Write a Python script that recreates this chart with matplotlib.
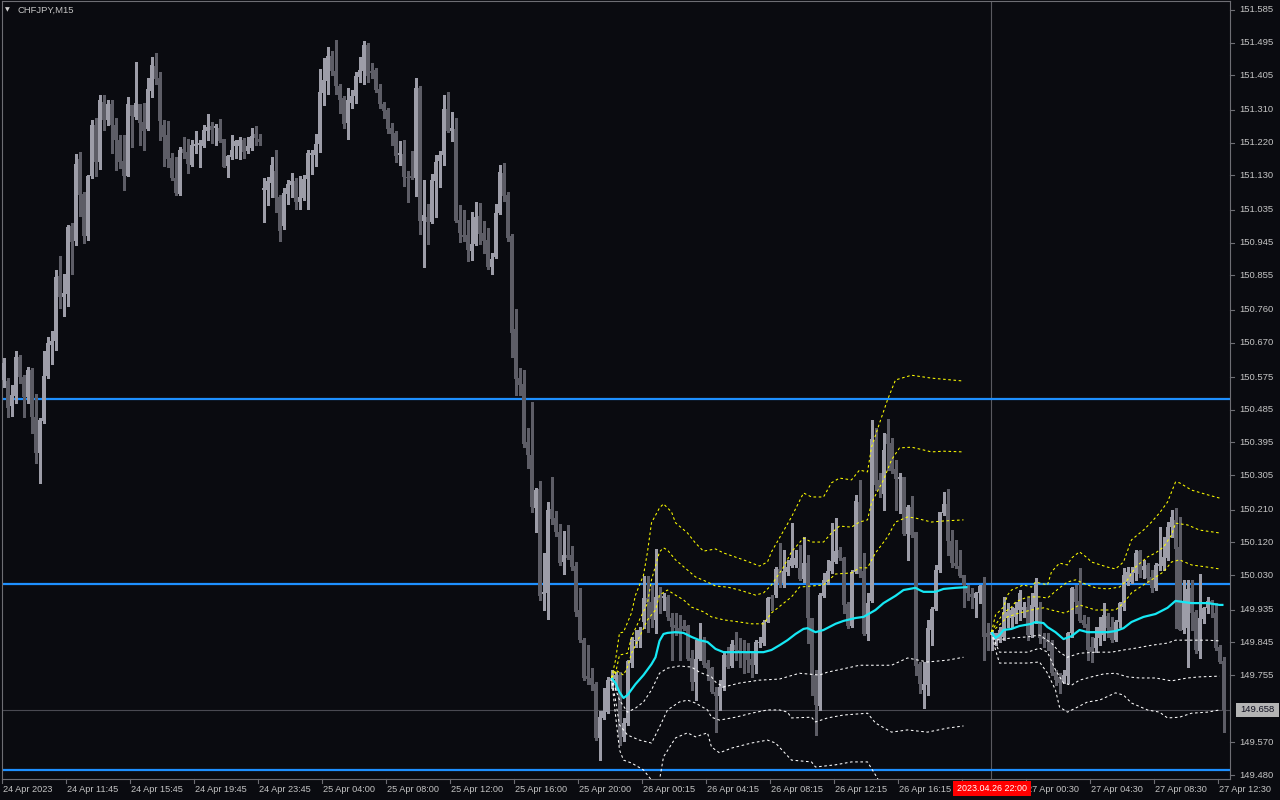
import matplotlib
matplotlib.use("Agg")
import matplotlib.pyplot as plt
import matplotlib.transforms as mtransforms
from matplotlib.patches import Rectangle
from matplotlib.lines import Line2D
import numpy as np

plt.rcParams['font.family'] = ['Liberation Sans', 'DejaVu Sans']

# ---------------- data (CHFJPY M15) ----------------
opens = [
150.567,150.564,150.495,150.522,150.630,150.575,150.520,150.594,150.465,150.366,
150.454,150.578,150.663,150.674,150.853,150.795,150.804,150.990,150.949,151.175,
151.079,150.963,151.128,151.268,151.167,151.332,151.282,151.326,151.268,151.227,
151.170,151.128,151.323,151.291,151.326,151.277,151.258,151.362,151.431,151.398,
151.268,151.241,151.178,151.123,151.079,151.203,151.194,151.159,151.211,151.213,
151.211,151.252,151.266,151.260,151.260,151.230,151.156,151.181,151.211,151.211,
151.227,151.197,151.205,151.244,151.230,151.090,151.090,151.109,151.142,151.071,
150.990,151.079,151.103,151.115,151.057,151.068,151.120,151.186,151.186,151.216,
151.356,151.389,151.458,151.417,151.376,151.343,151.274,151.329,151.348,151.400,
151.417,151.488,151.417,151.420,151.367,151.326,151.310,151.260,151.247,151.186,
151.189,151.126,151.128,151.123,151.370,151.004,151.016,151.002,151.115,151.170,
151.186,151.312,151.252,151.258,151.007,150.966,150.966,150.922,150.941,151.018,
150.971,150.952,150.878,150.905,151.026,151.137,151.076,150.963,150.707,150.572,
150.555,150.396,150.360,150.215,150.267,149.978,149.981,150.212,150.187,150.149,
150.066,150.085,150.085,150.055,149.934,149.851,149.752,149.747,149.730,149.582,
149.637,149.653,149.738,149.744,149.755,149.585,149.623,149.788,149.849,149.849,
149.901,149.967,149.956,149.907,149.975,149.967,149.970,149.912,149.893,149.884,
149.890,149.890,149.802,149.736,149.799,149.851,149.788,149.774,149.708,149.697,
149.719,149.810,149.780,149.837,149.824,149.821,149.818,149.799,149.782,149.843,
149.843,149.901,149.970,149.975,150.047,150.008,150.039,150.055,150.058,150.050,
150.019,150.063,149.912,149.755,149.670,149.973,150.011,150.041,150.066,150.099,
150.077,149.951,149.890,150.039,150.231,150.041,149.868,149.959,150.402,150.292,
150.253,150.418,150.393,150.322,150.294,150.300,150.143,150.217,150.149,149.785,
149.714,149.727,149.879,149.937,150.044,150.201,150.226,150.124,150.063,150.055,
150.030,150.000,149.978,149.967,149.981,150.003,149.871,149.865,149.851,149.851,
149.860,149.912,149.912,149.915,149.934,149.934,149.942,149.865,149.942,149.942,
149.862,149.854,149.846,149.763,149.750,149.736,149.752,149.870,149.992,149.959,
149.907,149.895,149.832,149.829,149.857,149.865,149.918,149.887,149.851,149.901,
149.942,150.011,150.011,150.036,150.096,150.044,150.058,150.025,149.995,150.055,
150.055,150.077,150.162,150.182,150.107,149.879,149.884,149.995,149.929,149.821,
149.909,149.940,149.959,149.926,149.832,149.793]

highs = [
150.627,150.572,150.553,150.646,150.635,150.580,150.602,150.600,150.528,150.462,
150.646,150.685,150.701,150.870,150.908,150.859,150.993,150.999,151.189,151.194,
151.084,151.131,151.282,151.288,151.351,151.351,151.337,151.337,151.288,151.241,
151.241,151.345,151.323,151.442,151.326,151.329,151.398,151.455,151.467,151.414,
151.282,151.279,151.192,151.180,151.208,151.235,151.230,151.227,151.252,151.227,
151.268,151.299,151.277,151.271,151.285,151.230,151.186,151.241,151.227,151.235,
151.233,151.235,151.260,151.266,151.244,151.123,151.126,151.180,151.200,151.076,
151.095,151.117,151.137,151.123,151.128,151.131,151.200,151.200,151.244,151.423,
151.453,151.483,151.472,151.502,151.381,151.348,151.370,151.365,151.414,151.455,
151.500,151.494,151.439,151.425,151.381,151.332,151.315,151.274,151.252,151.224,
151.227,151.142,151.197,151.398,151.376,151.117,151.051,151.134,151.186,151.197,
151.351,151.359,151.304,151.288,151.049,151.035,151.007,151.029,151.057,151.054,
151.004,150.985,150.917,151.051,151.159,151.164,151.084,150.969,150.762,150.600,
150.594,150.435,150.506,150.270,150.289,150.091,150.231,150.300,150.206,150.171,
150.151,150.168,150.110,150.066,149.995,149.857,149.837,149.774,149.736,149.656,
149.719,149.749,149.769,149.763,149.763,149.637,149.796,149.860,149.879,149.887,
150.028,150.028,150.003,150.102,149.997,149.981,149.975,149.926,149.926,149.920,
149.907,149.893,149.824,149.851,149.898,149.860,149.796,149.777,149.722,149.741,
149.816,149.832,149.851,149.873,149.857,149.851,149.843,149.818,149.851,149.860,
149.907,149.970,149.975,150.052,150.118,150.099,150.072,150.173,150.099,150.113,
150.135,150.085,149.912,149.769,149.981,150.036,150.072,150.173,150.187,150.107,
150.080,149.956,150.044,150.251,150.292,150.091,149.981,150.457,150.435,150.311,
150.421,150.459,150.407,150.347,150.311,150.300,150.223,150.248,150.149,149.791,
149.791,149.907,149.942,150.058,150.204,150.259,150.267,150.154,150.127,150.099,
150.030,150.003,149.995,149.984,150.003,150.025,149.898,149.879,149.870,149.887,
149.970,149.953,149.942,149.956,149.989,149.956,149.970,149.981,150.022,149.956,
149.870,149.870,149.851,149.769,149.760,149.769,149.873,149.997,150.003,150.050,
149.920,149.915,149.860,149.887,149.915,149.953,149.926,149.915,149.907,149.956,
150.050,150.052,150.052,150.099,150.099,150.072,150.063,150.044,150.063,150.162,
150.135,150.176,150.209,150.215,150.190,150.017,150.017,150.017,149.934,150.033,
149.942,149.970,149.962,149.953,149.837,149.805]

lows = [
150.548,150.465,150.467,150.504,150.559,150.465,150.504,150.421,150.339,150.284,
150.448,150.572,150.611,150.649,150.765,150.743,150.771,150.859,150.938,151.018,
150.944,150.952,151.123,151.128,151.147,151.255,151.268,151.192,151.145,151.150,
151.090,151.128,151.208,151.285,151.213,151.200,151.255,151.345,151.381,151.227,
151.156,151.153,151.117,151.076,151.076,151.178,151.137,151.156,151.192,151.153,
151.208,151.227,151.219,151.213,151.222,151.153,151.126,151.175,151.178,151.175,
151.178,151.192,151.200,151.213,151.213,151.002,151.049,151.071,151.029,150.949,
150.982,151.051,151.071,151.038,151.038,151.062,151.038,151.134,151.156,151.194,
151.323,151.354,151.406,151.354,151.301,151.260,151.230,151.315,151.329,151.387,
151.381,151.387,151.398,151.359,151.315,151.288,151.247,151.213,151.167,151.159,
151.101,151.057,151.120,151.073,150.969,150.878,150.941,150.999,151.016,151.098,
151.159,151.249,151.224,151.002,150.947,150.949,150.894,150.897,150.938,150.941,
150.917,150.873,150.859,150.903,151.024,151.060,150.949,150.630,150.525,150.525,
150.383,150.325,150.204,150.149,149.962,149.934,149.909,150.171,150.138,150.058,
150.033,150.074,150.044,149.918,149.846,149.741,149.730,149.714,149.576,149.521,
149.634,149.650,149.719,149.714,149.563,149.574,149.617,149.777,149.832,149.832,
149.884,149.873,149.887,149.870,149.926,149.934,149.907,149.796,149.865,149.796,
149.879,149.796,149.714,149.686,149.796,149.777,149.741,149.706,149.598,149.659,
149.714,149.774,149.777,149.796,149.777,149.761,149.763,149.750,149.761,149.832,
149.837,149.901,149.934,149.970,149.997,149.997,150.030,150.052,150.052,150.017,
150.011,149.843,149.700,149.590,149.659,149.970,150.006,150.036,150.063,150.072,
149.926,149.884,149.887,150.036,150.025,149.865,149.851,149.956,150.264,150.245,
150.209,150.319,150.311,150.209,150.201,150.140,150.072,150.135,149.755,149.706,
149.664,149.700,149.837,149.934,150.039,150.195,150.085,150.052,150.050,150.025,
149.942,149.962,149.940,149.915,149.953,149.796,149.824,149.824,149.837,149.846,
149.851,149.887,149.887,149.898,149.907,149.915,149.851,149.860,149.898,149.843,
149.832,149.824,149.755,149.727,149.706,149.733,149.733,149.860,149.926,149.901,
149.887,149.796,149.791,149.818,149.837,149.851,149.860,149.846,149.849,149.887,
149.934,150.003,150.008,150.017,150.025,150.022,150.008,149.984,149.989,150.044,
150.044,150.072,150.135,149.884,149.879,149.870,149.777,149.879,149.816,149.802,
149.898,149.926,149.915,149.824,149.788,149.598]

closes = [
150.614,150.490,150.525,150.630,150.575,150.520,150.594,150.465,150.366,150.457,
150.578,150.669,150.674,150.851,150.795,150.806,150.988,150.947,151.161,151.076,
150.963,151.128,151.268,151.167,151.337,151.282,151.326,151.268,151.227,151.167,
151.128,151.326,151.293,151.329,151.274,151.252,151.367,151.434,151.395,151.279,
151.235,151.175,151.123,151.082,151.200,151.192,151.161,151.213,151.216,151.219,
151.255,151.263,151.255,151.266,151.224,151.153,151.183,151.200,151.224,151.227,
151.194,151.211,151.238,151.233,151.222,151.095,151.115,151.159,151.068,150.977,
151.082,151.106,151.115,151.057,151.071,151.120,151.192,151.192,151.216,151.359,
151.392,151.458,151.417,151.376,151.337,151.271,151.337,151.348,151.403,151.420,
151.488,151.403,151.411,151.365,151.326,151.307,151.258,151.244,151.183,151.192,
151.126,151.123,151.123,151.370,151.004,151.021,151.002,151.117,151.167,151.186,
151.312,151.252,151.260,151.004,150.971,150.960,150.925,150.941,151.016,150.969,
150.949,150.878,150.900,151.026,151.139,151.073,150.958,150.696,150.569,150.553,
150.391,150.360,150.217,150.264,149.973,149.984,150.209,150.184,150.149,150.064,
150.085,150.077,150.052,149.929,149.851,149.747,149.744,149.727,149.582,149.640,
149.656,149.741,149.747,149.755,149.585,149.623,149.793,149.854,149.851,149.879,
149.967,149.953,149.909,149.970,149.962,149.973,149.915,149.887,149.884,149.873,
149.882,149.799,149.736,149.799,149.851,149.782,149.772,149.708,149.697,149.722,
149.810,149.777,149.840,149.824,149.818,149.816,149.796,149.782,149.846,149.846,
149.901,149.967,149.964,150.047,150.008,150.041,150.052,150.077,150.077,150.019,
150.063,149.912,149.755,149.673,149.975,150.017,150.041,150.069,150.096,150.077,
149.948,149.890,150.039,150.234,150.033,149.868,149.953,150.404,150.278,150.264,
150.374,150.391,150.316,150.294,150.300,150.143,150.217,150.140,149.780,149.730,
149.730,149.884,149.937,150.044,150.204,150.226,150.124,150.063,150.055,150.028,
150.003,149.981,149.970,149.981,150.000,149.860,149.860,149.873,149.870,149.879,
149.929,149.929,149.934,149.940,149.981,149.942,149.865,149.948,150.003,149.857,
149.854,149.846,149.760,149.741,149.733,149.755,149.870,149.995,149.956,149.904,
149.893,149.824,149.818,149.857,149.887,149.920,149.884,149.851,149.901,149.953,
150.030,150.039,150.036,150.091,150.033,150.055,150.022,149.995,150.058,150.061,
150.080,150.162,150.190,150.102,149.879,149.956,149.992,149.926,149.824,149.912,
149.940,149.959,149.951,149.829,149.791,149.658]

# horizontal levels
levels = [150.515, 150.006, 149.494]
bid_price = 149.658

# VWAP session 1 (anchor 25 Apr 20:00) : (bar, price)
vwap1 = [(152,149.747),(153,149.733),(154,149.708),(155,149.692),(156,149.700),(158,149.730),
         (160,149.755),(162,149.785),(163,149.804),(164,149.849),(165,149.868),(166,149.871),
         (168,149.873),(170,149.871),(172,149.860),(174,149.851),(176,149.846),(178,149.827),
         (180,149.818),(185,149.818),(190,149.818),(192,149.824),(194,149.837),(196,149.851),
         (198,149.868),(200,149.882),(201,149.884),(203,149.873),(205,149.879),(208,149.896),
         (210,149.904),(213,149.912),(215,149.915),(218,149.934),(220,149.953),(223,149.973),
         (225,149.989),(228,149.995),(229,149.989),(230,149.984),(233,149.984),(235,149.992),
         (238,149.995),(241,149.997)]
up1_3 = [(152,149.747),(153,149.796),(154,149.871),(155,149.873),(157,149.926),(158,149.975),
         (160,150.030),(161,150.094),(162,150.174),(164,150.215),(165,150.226),(167,150.204),
         (168,150.174),(171,150.146),(173,150.118),(175,150.096),(178,150.102),(180,150.091),
         (185,150.072),(189,150.055),(191,150.066),(192,150.094),(197,150.190),(200,150.256),
         (202,150.245),(205,150.245),(207,150.284),(209,150.297),(212,150.292),(214,150.319),
         (216,150.314),(217,150.382),(219,150.448),(221,150.512),(223,150.567),(227,150.580),
         (232,150.572),(240,150.564)]
up1_2 = [(152,149.747),(153,149.760),(154,149.810),(156,149.815),(157,149.860),(159,149.907),
         (161,149.953),(162,150.017),(164,150.094),(165,150.105),(166,150.099),(168,150.072),
         (171,150.044),(173,150.025),(176,150.011),(178,150.000),(181,149.997),(184,149.989),
         (188,149.975),(190,149.981),(192,150.003),(195,150.052),(197,150.094),(200,150.132),
         (202,150.121),(205,150.121),(207,150.146),(209,150.165),(212,150.162),(214,150.176),
         (216,150.182),(217,150.229),(220,150.292),(222,150.347),(224,150.380),(227,150.382),
         (229,150.377),(232,150.369),(235,150.371),(240,150.369)]
up1_1 = [(152,149.747),(153,149.769),(155,149.755),(156,149.777),(157,149.815),(159,149.860),
         (161,149.907),(163,149.934),(164,149.975),(166,149.989),(168,149.975),(170,149.962),
         (172,149.942),(175,149.929),(177,149.915),(180,149.907),(184,149.901),(187,149.896),
         (190,149.896),(192,149.926),(197,149.970),(199,149.997),(202,150.000),(205,150.003),
         (208,150.033),(212,150.036),(214,150.050),(216,150.050),(218,150.091),(221,150.135),
         (223,150.176),(226,150.190),(228,150.187),(232,150.176),(235,150.179),(240,150.182)]
dn1_1 = [(152,149.747),(154,149.686),(156,149.653),(158,149.664),(160,149.681),(162,149.714),
         (164,149.760),(166,149.774),(169,149.780),(172,149.777),(174,149.763),(177,149.750),
         (178,149.736),(180,149.722),(184,149.733),(189,149.741),(194,149.744),(199,149.760),
         (204,149.755),(206,149.763),(212,149.777),(214,149.782),(222,149.782),(226,149.802),
         (231,149.791),(236,149.796),(240,149.804)]
dn1_2 = [(152,149.747),(153,149.686),(154,149.618),(156,149.590),(159,149.576),(162,149.568),
         (164,149.612),(166,149.659),(169,149.681),(171,149.686),(173,149.678),(176,149.659),
         (177,149.639),(179,149.631),(183,149.639),(187,149.650),(191,149.659),(194,149.659),
         (196,149.653),(197,149.637),(202,149.639),(203,149.626),(206,149.637),(210,149.645),
         (216,149.650),(218,149.623),(222,149.598),(226,149.604),(231,149.598),(236,149.609),
         (240,149.615)]
dn1_3 = [(152,149.747),(153,149.645),(154,149.549),(155,149.521),(157,149.513),(160,149.494),
         (162,149.466),(164,149.466),(165,149.530),(168,149.582),(171,149.596),(173,149.585),
         (176,149.596),(177,149.557),(179,149.541),(182,149.554),(187,149.568),(191,149.576),
         (193,149.568),(197,149.521),(202,149.516),(203,149.502),(208,149.508),(212,149.516),
         (216,149.516),(218,149.480),(219,149.461)]

# VWAP session 2 (anchor 26 Apr 22:00)
vwap2 = [(247,149.873),(248,149.857),(249,149.865),(250,149.879),(252,149.882),(254,149.890),
         (257,149.896),(258,149.901),(260,149.898),(261,149.887),(263,149.873),(265,149.854),
         (267,149.862),(269,149.879),(271,149.873),(273,149.873),(276,149.873),(278,149.876),
         (280,149.884),(282,149.901),(285,149.915),(288,149.923),(291,149.940),(293,149.959),
         (295,149.956),(297,149.953),(301,149.953),(304,149.948),(305,149.948)]
up2_3 = [(247,149.873),(248,149.920),(250,149.942),(251,149.975),(252,149.989),(255,150.003),
         (257,149.997),(258,150.011),(261,150.003),(262,150.039),(264,150.063),(266,150.058),
         (267,150.077),(269,150.094),(271,150.077),(272,150.066),(276,150.052),(278,150.047),
         (280,150.066),(282,150.127),(285,150.154),(287,150.176),(289,150.201),(291,150.231),
         (293,150.286),(294,150.284),(297,150.264),(301,150.251),(304,150.242)]
up2_2 = [(247,149.873),(248,149.893),(250,149.926),(252,149.942),(253,149.956),(256,149.970),
         (259,149.970),(261,149.967),(264,149.995),(266,150.011),(268,150.017),(271,150.003),
         (273,149.995),(276,149.992),(279,149.997),(281,150.017),(283,150.052),(286,150.080),
         (288,150.091),(290,150.107),(292,150.140),(293,150.173),(296,150.168),(299,150.154),
         (304,150.146)]
up2_1 = [(247,149.873),(249,149.893),(251,149.915),(254,149.926),(257,149.934),(260,149.940),
         (262,149.934),(265,149.926),(266,149.929),(269,149.948),(273,149.934),(276,149.934),
         (278,149.934),(280,149.953),(282,149.981),(285,150.003),(287,150.017),(290,150.039),
         (292,150.066),(294,150.072),(297,150.058),(301,150.052),(304,150.047)]
dn2_1 = [(247,149.873),(248,149.851),(252,149.857),(256,149.860),(259,149.865),(262,149.843),
         (264,149.818),(266,149.804),(269,149.815),(273,149.818),(277,149.818),(280,149.824),
         (283,149.829),(287,149.837),(291,149.843),(293,149.851),(297,149.851),(301,149.851),
         (304,149.849)]
dn2_2 = [(247,149.873),(248,149.843),(249,149.818),(252,149.818),(256,149.818),(259,149.829),
         (261,149.818),(263,149.769),(265,149.733),(267,149.727),(269,149.741),(272,149.750),
         (275,149.758),(278,149.760),(281,149.750),(284,149.747),(288,149.747),(292,149.739),
         (296,149.747),(299,149.750),(304,149.752)]
dn2_3 = [(247,149.873),(248,149.824),(249,149.788),(252,149.788),(256,149.788),(259,149.791),
         (261,149.760),(263,149.714),(264,149.667),(266,149.653),(268,149.664),(271,149.681),
         (274,149.686),(278,149.706),(280,149.700),(282,149.678),(286,149.659),(289,149.653),
         (291,149.637),(294,149.639),(297,149.650),(301,149.653),(304,149.659)]

price_ticks = [151.585,151.495,151.405,151.310,151.220,151.130,151.035,150.945,150.855,
               150.760,150.670,150.575,150.485,150.395,150.305,150.210,150.120,150.030,
               149.935,149.845,149.755,149.570,149.480]
time_ticks = [0,16,32,48,64,80,96,112,128,144,160,176,192,208,224,256,272,288,304]
time_labels = ["24 Apr 2023","24 Apr 11:45","24 Apr 15:45","24 Apr 19:45","24 Apr 23:45",
               "25 Apr 04:00","25 Apr 08:00","25 Apr 12:00","25 Apr 16:00","25 Apr 20:00",
               "26 Apr 00:15","26 Apr 04:15","26 Apr 08:15","26 Apr 12:15","26 Apr 16:15",
               "27 Apr 00:30","27 Apr 04:30","27 Apr 08:30","27 Apr 12:30"]
crosshair_bar = 246.9
crosshair_label = "2023.04.26 22:00"
title = "CHFJPY,M15"

# ---------------- styling ----------------
BG = '#0a0b10'
BULL = '#9d9da8'
BEAR = '#5d5d66'
TXT = '#c4c4c4'
FRAME = '#6e6e74'

W, H = 1280, 800
fig = plt.figure(figsize=(W/100, H/100), dpi=100, facecolor=BG)
ax = fig.add_axes([2/W, 21/H, 1228/W, 778/H])
ax.set_facecolor(BG)
ax.set_xlim(-0.375, 306.625)
ax.set_ylim(149.4690, 151.6097)
ax.set_xticks([]); ax.set_yticks([])
for s in ax.spines.values():
    s.set_color(FRAME); s.set_linewidth(0.8)

o = np.array(opens); h = np.array(highs); l = np.array(lows); c = np.array(closes)
h = np.maximum(h, np.maximum(o, c)); l = np.minimum(l, np.minimum(o, c))
x = np.arange(len(c))
bull = c >= o
cols = np.where(bull, BULL, BEAR)
px = (151.6097 - 149.4690) / 778.0
bottom = np.minimum(o, c)
height = np.maximum(np.abs(c - o), px)

# horizontal levels
for lv in levels:
    ax.axhline(lv, color='#1e90ff', lw=1.6, zorder=2)
ax.axhline(bid_price, color='#4a4a52', lw=0.8, zorder=1)
ax.axvline(crosshair_bar, color='#5a5a60', lw=0.8, zorder=1)

ax.vlines(x, l, h, colors=cols, linewidth=0.75, antialiased=False, zorder=3)
ax.bar(x, height, bottom=bottom, width=0.75, color=cols, linewidth=0,
       antialiased=False, zorder=4)

def draw(pts, color, lw=0.75, ls=(0, (2.5, 2.5)), z=5):
    xs = [p[0] for p in pts]; ys = [p[1] for p in pts]
    ax.plot(xs, ys, color=color, lw=lw, ls=ls, zorder=z, solid_capstyle='butt')

for band in (up1_1, up1_2, up1_3, up2_1, up2_2, up2_3):
    draw(band, '#ffff00')
for band in (dn1_1, dn1_2, dn1_3, dn2_1, dn2_2, dn2_3):
    draw(band, '#ffffff')
draw(vwap1, '#16e8f4', lw=1.6, ls='-', z=6)
draw(vwap2, '#16e8f4', lw=1.6, ls='-', z=6)

# right price scale
trY = mtransforms.blended_transform_factory(ax.transAxes, ax.transData)
for p in price_ticks:
    ax.text(1 + 9/1228, p, f"{p:.3f}", transform=trY, color=TXT, fontsize=6.8,
            va='center', ha='left', clip_on=False)
    ax.add_line(Line2D([1, 1 + 4/1228], [p, p], transform=trY, color=FRAME,
                       lw=0.8, clip_on=False))

# bottom time scale
trX = mtransforms.blended_transform_factory(ax.transData, ax.transAxes)
for b, lab in zip(time_ticks, time_labels):
    ax.text(b - 0.375 + 0.3, -10/778, lab, transform=trX, color=TXT, fontsize=6.6,
            va='center', ha='left', clip_on=False)
for b in time_ticks + [240]:
    ax.add_line(Line2D([b - 0.375, b - 0.375], [0, -4/778], transform=trX,
                       color=FRAME, lw=0.8, clip_on=False))

# crosshair time label (red box)
cx = (3.5 + 4 * crosshair_bar) + 1
fig.add_artist(Rectangle(((cx - 39)/W, (H - 796)/H), 78/W, 15/H,
                         transform=fig.transFigure, facecolor='#ff0000',
                         edgecolor='none', zorder=10))
fig.text(cx/W, (H - 788.5)/H, crosshair_label, color='white', fontsize=6.4,
         ha='center', va='center', zorder=11)

# current bid box
fig.add_artist(Rectangle((1236/W, (H - 717)/H), 43/W, 14/H, transform=fig.transFigure,
                         facecolor='#b4b4b4', edgecolor='none', zorder=10))
fig.text(1257.5/W, (H - 710)/H, f"{bid_price:.3f}", color='#101020', fontsize=6.8,
         ha='center', va='center', zorder=11)

# title
fig.text(5/W, (H - 10)/H, "\u25bc", color='#d0d0d0', fontsize=4.5, ha='left',
         va='center', family='DejaVu Sans')
fig.text(18/W, (H - 10)/H, title, color=TXT, fontsize=6.8, ha='left', va='center')

fig.savefig("out.png", dpi=100, facecolor=BG)
